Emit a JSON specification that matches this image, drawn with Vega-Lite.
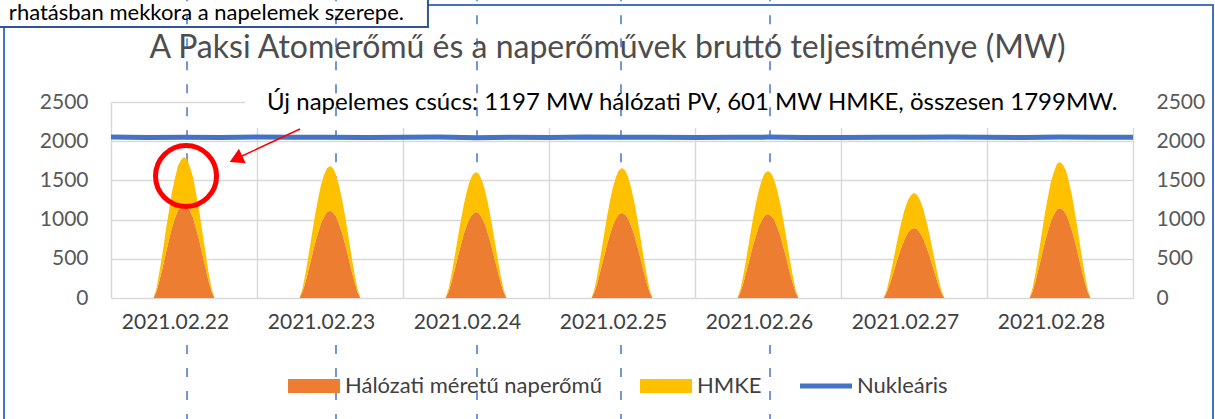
{
  "$schema": "https://vega.github.io/schema/vega-lite/v6.json",
  "autosize": {"type": "none"},
  "width": 1022,
  "height": 196,
  "padding": {"left": 111, "top": 102, "right": 82, "bottom": 121},
  "background": "white",
  "datasets": {
    "sol": [
      {"t":"2021-02-22T07:00","pv":0,"hmke":0},{"t":"2021-02-22T07:30","pv":88,"hmke":44},{"t":"2021-02-22T08:00","pv":234,"hmke":118},{"t":"2021-02-22T08:30","pv":392,"hmke":197},{"t":"2021-02-22T09:00","pv":572,"hmke":287},{"t":"2021-02-22T09:30","pv":733,"hmke":368},{"t":"2021-02-22T10:00","pv":892,"hmke":449},{"t":"2021-02-22T10:30","pv":1015,"hmke":508},{"t":"2021-02-22T11:00","pv":1120,"hmke":563},{"t":"2021-02-22T11:30","pv":1172,"hmke":588},{"t":"2021-02-22T12:00","pv":1197,"hmke":601},{"t":"2021-02-22T12:30","pv":1180,"hmke":594},{"t":"2021-02-22T13:00","pv":1110,"hmke":557},{"t":"2021-02-22T13:30","pv":1024,"hmke":514},{"t":"2021-02-22T14:00","pv":884,"hmke":444},{"t":"2021-02-22T14:30","pv":741,"hmke":372},{"t":"2021-02-22T15:00","pv":565,"hmke":283},{"t":"2021-02-22T15:30","pv":399,"hmke":201},{"t":"2021-02-22T16:00","pv":228,"hmke":114},{"t":"2021-02-22T16:30","pv":92,"hmke":46},{"t":"2021-02-22T17:00","pv":0,"hmke":0},
      {"t":"2021-02-23T07:00","pv":0,"hmke":0},{"t":"2021-02-23T07:30","pv":85,"hmke":42},{"t":"2021-02-23T08:00","pv":212,"hmke":112},{"t":"2021-02-23T08:30","pv":371,"hmke":187},{"t":"2021-02-23T09:00","pv":526,"hmke":273},{"t":"2021-02-23T09:30","pv":689,"hmke":350},{"t":"2021-02-23T10:00","pv":823,"hmke":427},{"t":"2021-02-23T10:30","pv":951,"hmke":483},{"t":"2021-02-23T11:00","pv":1033,"hmke":535},{"t":"2021-02-23T11:30","pv":1098,"hmke":558},{"t":"2021-02-23T12:00","pv":1113,"hmke":571},{"t":"2021-02-23T12:30","pv":1090,"hmke":564},{"t":"2021-02-23T13:00","pv":1041,"hmke":529},{"t":"2021-02-23T13:30","pv":943,"hmke":489},{"t":"2021-02-23T14:00","pv":830,"hmke":421},{"t":"2021-02-23T14:30","pv":682,"hmke":354},{"t":"2021-02-23T15:00","pv":532,"hmke":268},{"t":"2021-02-23T15:30","pv":365,"hmke":191},{"t":"2021-02-23T16:00","pv":218,"hmke":108},{"t":"2021-02-23T16:30","pv":81,"hmke":44},{"t":"2021-02-23T17:00","pv":0,"hmke":0},
      {"t":"2021-02-24T07:00","pv":0,"hmke":0},{"t":"2021-02-24T07:30","pv":80,"hmke":39},{"t":"2021-02-24T08:00","pv":215,"hmke":96},{"t":"2021-02-24T08:30","pv":360,"hmke":171},{"t":"2021-02-24T09:00","pv":524,"hmke":240},{"t":"2021-02-24T09:30","pv":672,"hmke":317},{"t":"2021-02-24T10:00","pv":818,"hmke":376},{"t":"2021-02-24T10:30","pv":930,"hmke":437},{"t":"2021-02-24T11:00","pv":1026,"hmke":472},{"t":"2021-02-24T11:30","pv":1074,"hmke":505},{"t":"2021-02-24T12:00","pv":1097,"hmke":510},{"t":"2021-02-24T12:30","pv":1082,"hmke":497},{"t":"2021-02-24T13:00","pv":1018,"hmke":478},{"t":"2021-02-24T13:30","pv":937,"hmke":430},{"t":"2021-02-24T14:00","pv":811,"hmke":382},{"t":"2021-02-24T14:30","pv":679,"hmke":311},{"t":"2021-02-24T15:00","pv":518,"hmke":245},{"t":"2021-02-24T15:30","pv":366,"hmke":166},{"t":"2021-02-24T16:00","pv":209,"hmke":100},{"t":"2021-02-24T16:30","pv":83,"hmke":37},{"t":"2021-02-24T17:00","pv":0,"hmke":0},
      {"t":"2021-02-25T07:00","pv":0,"hmke":0},{"t":"2021-02-25T07:30","pv":83,"hmke":42},{"t":"2021-02-25T08:00","pv":207,"hmke":111},{"t":"2021-02-25T08:30","pv":363,"hmke":187},{"t":"2021-02-25T09:00","pv":514,"hmke":273},{"t":"2021-02-25T09:30","pv":673,"hmke":349},{"t":"2021-02-25T10:00","pv":805,"hmke":426},{"t":"2021-02-25T10:30","pv":929,"hmke":482},{"t":"2021-02-25T11:00","pv":1010,"hmke":534},{"t":"2021-02-25T11:30","pv":1073,"hmke":557},{"t":"2021-02-25T12:00","pv":1088,"hmke":570},{"t":"2021-02-25T12:30","pv":1066,"hmke":563},{"t":"2021-02-25T13:00","pv":1017,"hmke":528},{"t":"2021-02-25T13:30","pv":922,"hmke":488},{"t":"2021-02-25T14:00","pv":811,"hmke":421},{"t":"2021-02-25T14:30","pv":667,"hmke":353},{"t":"2021-02-25T15:00","pv":520,"hmke":269},{"t":"2021-02-25T15:30","pv":357,"hmke":190},{"t":"2021-02-25T16:00","pv":212,"hmke":109},{"t":"2021-02-25T16:30","pv":80,"hmke":44},{"t":"2021-02-25T17:00","pv":0,"hmke":0},
      {"t":"2021-02-26T07:00","pv":0,"hmke":0},{"t":"2021-02-26T07:30","pv":81,"hmke":40},{"t":"2021-02-26T08:00","pv":205,"hmke":108},{"t":"2021-02-26T08:30","pv":357,"hmke":180},{"t":"2021-02-26T09:00","pv":506,"hmke":263},{"t":"2021-02-26T09:30","pv":663,"hmke":336},{"t":"2021-02-26T10:00","pv":792,"hmke":411},{"t":"2021-02-26T10:30","pv":915,"hmke":464},{"t":"2021-02-26T11:00","pv":995,"hmke":515},{"t":"2021-02-26T11:30","pv":1056,"hmke":537},{"t":"2021-02-26T12:00","pv":1071,"hmke":549},{"t":"2021-02-26T12:30","pv":1050,"hmke":543},{"t":"2021-02-26T13:00","pv":1001,"hmke":509},{"t":"2021-02-26T13:30","pv":908,"hmke":470},{"t":"2021-02-26T14:00","pv":799,"hmke":405},{"t":"2021-02-26T14:30","pv":657,"hmke":340},{"t":"2021-02-26T15:00","pv":512,"hmke":259},{"t":"2021-02-26T15:30","pv":351,"hmke":184},{"t":"2021-02-26T16:00","pv":209,"hmke":104},{"t":"2021-02-26T16:30","pv":79,"hmke":42},{"t":"2021-02-26T17:00","pv":0,"hmke":0},
      {"t":"2021-02-27T07:00","pv":0,"hmke":0},{"t":"2021-02-27T07:30","pv":66,"hmke":34},{"t":"2021-02-27T08:00","pv":174,"hmke":85},{"t":"2021-02-27T08:30","pv":293,"hmke":149},{"t":"2021-02-27T09:00","pv":427,"hmke":210},{"t":"2021-02-27T09:30","pv":547,"hmke":277},{"t":"2021-02-27T10:00","pv":666,"hmke":329},{"t":"2021-02-27T10:30","pv":756,"hmke":382},{"t":"2021-02-27T11:00","pv":835,"hmke":413},{"t":"2021-02-27T11:30","pv":874,"hmke":441},{"t":"2021-02-27T12:00","pv":893,"hmke":446},{"t":"2021-02-27T12:30","pv":881,"hmke":435},{"t":"2021-02-27T13:00","pv":829,"hmke":418},{"t":"2021-02-27T13:30","pv":763,"hmke":377},{"t":"2021-02-27T14:00","pv":659,"hmke":333},{"t":"2021-02-27T14:30","pv":553,"hmke":273},{"t":"2021-02-27T15:00","pv":421,"hmke":214},{"t":"2021-02-27T15:30","pv":298,"hmke":146},{"t":"2021-02-27T16:00","pv":170,"hmke":87},{"t":"2021-02-27T16:30","pv":68,"hmke":32},{"t":"2021-02-27T17:00","pv":0,"hmke":0},
      {"t":"2021-02-28T07:00","pv":0,"hmke":0},{"t":"2021-02-28T07:30","pv":87,"hmke":45},{"t":"2021-02-28T08:00","pv":219,"hmke":111},{"t":"2021-02-28T08:30","pv":383,"hmke":196},{"t":"2021-02-28T09:00","pv":542,"hmke":277},{"t":"2021-02-28T09:30","pv":710,"hmke":364},{"t":"2021-02-28T10:00","pv":849,"hmke":433},{"t":"2021-02-28T10:30","pv":981,"hmke":503},{"t":"2021-02-28T11:00","pv":1066,"hmke":544},{"t":"2021-02-28T11:30","pv":1132,"hmke":580},{"t":"2021-02-28T12:00","pv":1148,"hmke":587},{"t":"2021-02-28T12:30","pv":1124,"hmke":574},{"t":"2021-02-28T13:00","pv":1073,"hmke":550},{"t":"2021-02-28T13:30","pv":973,"hmke":497},{"t":"2021-02-28T14:00","pv":856,"hmke":439},{"t":"2021-02-28T14:30","pv":704,"hmke":360},{"t":"2021-02-28T15:00","pv":548,"hmke":281},{"t":"2021-02-28T15:30","pv":377,"hmke":192},{"t":"2021-02-28T16:00","pv":224,"hmke":115},{"t":"2021-02-28T16:30","pv":85,"hmke":43},{"t":"2021-02-28T17:00","pv":0,"hmke":0}
    ],
    "nuk": [
      {"t":"2021-02-22T00:00","mw":2052},{"t":"2021-02-22T06:00","mw":2048},{"t":"2021-02-22T12:00","mw":2050},{"t":"2021-02-22T18:00","mw":2046},
      {"t":"2021-02-23T00:00","mw":2053},{"t":"2021-02-23T06:00","mw":2049},{"t":"2021-02-23T12:00","mw":2051},{"t":"2021-02-23T18:00","mw":2047},
      {"t":"2021-02-24T00:00","mw":2050},{"t":"2021-02-24T06:00","mw":2052},{"t":"2021-02-24T12:00","mw":2045},{"t":"2021-02-24T18:00","mw":2050},
      {"t":"2021-02-25T00:00","mw":2048},{"t":"2021-02-25T06:00","mw":2054},{"t":"2021-02-25T12:00","mw":2049},{"t":"2021-02-25T18:00","mw":2051},
      {"t":"2021-02-26T00:00","mw":2047},{"t":"2021-02-26T06:00","mw":2050},{"t":"2021-02-26T12:00","mw":2052},{"t":"2021-02-26T18:00","mw":2048},
      {"t":"2021-02-27T00:00","mw":2046},{"t":"2021-02-27T06:00","mw":2051},{"t":"2021-02-27T12:00","mw":2049},{"t":"2021-02-27T18:00","mw":2053},
      {"t":"2021-02-28T00:00","mw":2050},{"t":"2021-02-28T06:00","mw":2047},{"t":"2021-02-28T12:00","mw":2052},{"t":"2021-02-28T18:00","mw":2049},
      {"t":"2021-03-01T00:00","mw":2050}
    ],
    "peaks": [
      {"t":"2021-02-22T12:30"},{"t":"2021-02-23T12:59"},{"t":"2021-02-24T12:10"},{"t":"2021-02-25T11:50"},{"t":"2021-02-26T12:20"}
    ]
  },
  "resolve": {"scale": {"y": "independent"}},
  "layer": [
    {
      "data": {"values": [{}]},
      "mark": {"type": "rect", "filled": false, "stroke": "#4472C4", "strokeWidth": 2, "clip": false},
      "encoding": {
        "x": {"datum": {"year": 2021, "month": 2, "date": 21, "hours": 6, "minutes": 25}, "type": "temporal", "scale": {"domain": [{"year": 2021, "month": 2, "date": 22}, {"year": 2021, "month": 3, "date": 1}]}},
        "x2": {"datum": {"year": 2021, "month": 3, "date": 1, "hours": 13, "minutes": 9}},
        "y": {"datum": 3737, "type": "quantitative", "scale": {"domain": [0, 2500]}, "axis": null},
        "y2": {"datum": -1700}
      }
    },
    {
      "data": {"values": [{}]},
      "mark": {"type": "rect", "fill": "white", "stroke": "#2F5597", "strokeWidth": 2, "clip": false},
      "encoding": {
        "x": {"datum": {"year": 2021, "month": 2, "date": 21, "hours": 4, "minutes": 7}, "type": "temporal", "scale": {"domain": [{"year": 2021, "month": 2, "date": 22}, {"year": 2021, "month": 3, "date": 1}]}},
        "x2": {"datum": {"year": 2021, "month": 2, "date": 24, "hours": 4, "minutes": 6}},
        "y": {"datum": 3929, "type": "quantitative", "scale": {"domain": [0, 2500]}, "axis": null},
        "y2": {"datum": 3457}
      }
    },
    {
      "data": {"values": [{}]},
      "mark": {"type": "rect", "fill": "white", "clip": false},
      "encoding": {
        "x": {"datum": {"year": 2021, "month": 2, "date": 22, "hours": 22, "minutes": 2}, "type": "temporal", "scale": {"domain": [{"year": 2021, "month": 2, "date": 22}, {"year": 2021, "month": 3, "date": 1}]}},
        "x2": {"datum": {"year": 2021, "month": 3, "date": 1, "hours": 0, "minutes": 30}},
        "y": {"datum": 2628, "type": "quantitative", "scale": {"domain": [0, 2500]}, "axis": null},
        "y2": {"datum": 2168}
      }
    },
    {
      "data": {"name": "peaks"},
      "mark": {"type": "rule", "color": "#4472C4", "opacity": 0.75, "strokeWidth": 2, "strokeDash": [9, 14], "clip": false},
      "encoding": {
        "x": {"field": "t", "type": "temporal", "scale": {"domain": [{"year": 2021, "month": 2, "date": 22}, {"year": 2021, "month": 3, "date": 1}]}},
        "y": {"datum": 3900, "type": "quantitative", "scale": {"domain": [0, 2500]}, "axis": null},
        "y2": {"datum": 0}
      }
    },
    {
      "data": {"name": "peaks"},
      "mark": {"type": "rule", "color": "#4472C4", "opacity": 0.75, "strokeWidth": 2, "strokeDash": [9, 14], "clip": false},
      "encoding": {
        "x": {"field": "t", "type": "temporal", "scale": {"domain": [{"year": 2021, "month": 2, "date": 22}, {"year": 2021, "month": 3, "date": 1}]}},
        "y": {"datum": -600, "type": "quantitative", "scale": {"domain": [0, 2500]}, "axis": null},
        "y2": {"datum": -1700}
      }
    },
    {
      "data": {"name": "sol"},
      "transform": [{"fold": ["pv", "hmke"], "as": ["series", "mw"]}],
      "mark": {"type": "area", "interpolate": "linear", "opacity": 1},
      "encoding": {
        "x": {"field": "t", "type": "temporal",
          "scale": {"domain": [{"year": 2021, "month": 2, "date": 22}, {"year": 2021, "month": 3, "date": 1}]},
          "axis": {"title": null, "values": [{"year": 2021, "month": 2, "date": 22}, {"year": 2021, "month": 2, "date": 23}, {"year": 2021, "month": 2, "date": 24}, {"year": 2021, "month": 2, "date": 25}, {"year": 2021, "month": 2, "date": 26}, {"year": 2021, "month": 2, "date": 27}, {"year": 2021, "month": 2, "date": 28}, {"year": 2021, "month": 3, "date": 1}],
            "grid": true, "gridColor": "#D9D9D9", "gridWidth": 1.5, "domain": false, "ticks": false,
            "labelExpr": "month(datum.value) == 1 ? timeFormat(datum.value, '%Y.%m.%d') : ''",
            "labelOffset": 64, "labelAlign": "center", "labelFlush": false, "labelOverlap": false, "labelBound": false,
            "labelFontSize": 21, "labelColor": "#404040", "labelFont": "Lato", "labelPadding": 13, "labelBaseline": "top"}},
        "y": {"field": "mw", "type": "quantitative", "stack": "zero",
          "scale": {"domain": [0, 2500], "nice": false},
          "axis": {"orient": "left", "title": null, "values": [0, 500, 1000, 1500, 2000, 2500], "format": "d", "grid": true, "gridColor": "#D9D9D9", "gridWidth": 1.5, "domain": false, "ticks": false, "labelFontSize": 21, "labelColor": "#595959", "labelFont": "Lato", "labelPadding": 23}},
        "color": {"field": "series", "type": "nominal",
          "scale": {"domain": ["pv", "hmke", "nuk"], "range": ["#ED7D31", "#FFC000", "#4472C4"]},
          "legend": {"title": null, "orient": "none", "legendX": 177, "legendY": 258, "direction": "horizontal",
            "symbolType": "M-1,-0.27H1V0.27H-1Z", "symbolSize": 2704, "symbolStrokeWidth": 0, "symbolOpacity": 1,
            "labelFontSize": 22, "labelColor": "#404040", "labelFont": "Lato", "columnPadding": 38, "labelOffset": 5, "padding": 0, "labelLimit": 500,
            "labelExpr": "datum.value === 'pv' ? 'Hálózati méretű naperőmű' : datum.value === 'hmke' ? 'HMKE' : 'Nukleáris'",
            "encode": {"symbols": {
              "enter": {"shape": {"signal": "datum.value === 'nuk' ? 'M-1,-0.1H1V0.1H-1Z' : 'M-1,-0.27H1V0.27H-1Z'"}},
              "update": {
              "shape": {"signal": "datum.value === 'nuk' ? 'M-1,-0.1H1V0.1H-1Z' : 'M-1,-0.27H1V0.27H-1Z'"},
              "fill": {"signal": "datum.value === 'pv' ? '#ED7D31' : datum.value === 'hmke' ? '#FFC000' : '#4472C4'"},
              "stroke": {"value": "transparent"},
              "strokeWidth": {"value": 0},
              "opacity": {"value": 1},
              "fillOpacity": {"value": 1}
            }}}}},
        "order": {"field": "series", "sort": "descending"}
      }
    },
    {
      "data": {"name": "nuk"},
      "mark": {"type": "line", "strokeWidth": 5, "interpolate": "linear"},
      "encoding": {
        "x": {"field": "t", "type": "temporal", "scale": {"domain": [{"year": 2021, "month": 2, "date": 22}, {"year": 2021, "month": 3, "date": 1}]}},
        "y": {"field": "mw", "type": "quantitative", "scale": {"domain": [0, 2500], "nice": false},
          "axis": {"orient": "right", "title": null, "values": [0, 500, 1000, 1500, 2000, 2500], "format": "d", "grid": false, "domain": false, "ticks": false, "labelFontSize": 21, "labelColor": "#595959", "labelFont": "Lato", "labelPadding": 23}},
        "color": {"datum": "nuk", "type": "nominal"}
      }
    },
    {
      "data": {"values": [{}]},
      "mark": {"type": "point", "shape": "circle", "filled": false, "stroke": "#FF0000", "strokeWidth": 5, "size": 3721, "opacity": 1, "clip": false},
      "encoding": {
        "x": {"datum": {"year": 2021, "month": 2, "date": 22, "hours": 12, "minutes": 20}, "type": "temporal", "scale": {"domain": [{"year": 2021, "month": 2, "date": 22}, {"year": 2021, "month": 3, "date": 1}]}},
        "y": {"datum": 1556, "type": "quantitative", "scale": {"domain": [0, 2500]}, "axis": null}
      }
    },
    {
      "data": {"values": [{}]},
      "mark": {"type": "rule", "color": "#FF0000", "strokeWidth": 1.5, "clip": false},
      "encoding": {
        "x": {"datum": {"year": 2021, "month": 2, "date": 23, "hours": 7, "minutes": 4}, "type": "temporal", "scale": {"domain": [{"year": 2021, "month": 2, "date": 22}, {"year": 2021, "month": 3, "date": 1}]}},
        "x2": {"datum": {"year": 2021, "month": 2, "date": 22, "hours": 21, "minutes": 32}},
        "y": {"datum": 2156, "type": "quantitative", "scale": {"domain": [0, 2500]}, "axis": null},
        "y2": {"datum": 1811}
      }
    },
    {
      "data": {"values": [{}]},
      "mark": {"type": "point", "shape": "triangle-up", "filled": true, "fill": "#FF0000", "strokeWidth": 0, "size": 260, "angle": 245, "opacity": 1, "clip": false},
      "encoding": {
        "x": {"datum": {"year": 2021, "month": 2, "date": 22, "hours": 20, "minutes": 33}, "type": "temporal", "scale": {"domain": [{"year": 2021, "month": 2, "date": 22}, {"year": 2021, "month": 3, "date": 1}]}},
        "y": {"datum": 1773, "type": "quantitative", "scale": {"domain": [0, 2500]}, "axis": null}
      }
    },
    {
      "data": {"values": [{}]},
      "mark": {"type": "text", "text": "A Paksi Atomerőmű és a naperőművek bruttó teljesítménye (MW)", "align": "center", "baseline": "middle", "font": "Lato", "fontSize": 32, "color": "#4D4D4D", "clip": false},
      "encoding": {
        "x": {"datum": {"year": 2021, "month": 2, "date": 25, "hours": 9, "minutes": 37}, "type": "temporal", "scale": {"domain": [{"year": 2021, "month": 2, "date": 22}, {"year": 2021, "month": 3, "date": 1}]}},
        "y": {"datum": 3189, "type": "quantitative", "scale": {"domain": [0, 2500]}, "axis": null}
      }
    },
    {
      "data": {"values": [{}]},
      "mark": {"type": "text", "text": "Új napelemes csúcs: 1197 MW hálózati PV, 601 MW HMKE, összesen 1799MW.", "align": "left", "baseline": "middle", "font": "Lato", "fontSize": 24, "color": "#000000", "clip": false},
      "encoding": {
        "x": {"datum": {"year": 2021, "month": 2, "date": 23, "hours": 1, "minutes": 38}, "type": "temporal", "scale": {"domain": [{"year": 2021, "month": 2, "date": 22}, {"year": 2021, "month": 3, "date": 1}]}},
        "y": {"datum": 2487, "type": "quantitative", "scale": {"domain": [0, 2500]}, "axis": null}
      }
    },
    {
      "data": {"values": [{}]},
      "mark": {"type": "text", "text": "rhatásban mekkora a napelemek szerepe.", "align": "right", "baseline": "middle", "font": "Lato", "fontSize": 22, "color": "#000000", "clip": false},
      "encoding": {
        "x": {"datum": {"year": 2021, "month": 2, "date": 24, "hours": 0, "minutes": 10}, "type": "temporal", "scale": {"domain": [{"year": 2021, "month": 2, "date": 22}, {"year": 2021, "month": 3, "date": 1}]}},
        "y": {"datum": 3635, "type": "quantitative", "scale": {"domain": [0, 2500]}, "axis": null}
      }
    }
  ],
  "config": {
    "font": "Lato",
    "view": {"stroke": null},
    "axisX": {"title": null}
  }
}
